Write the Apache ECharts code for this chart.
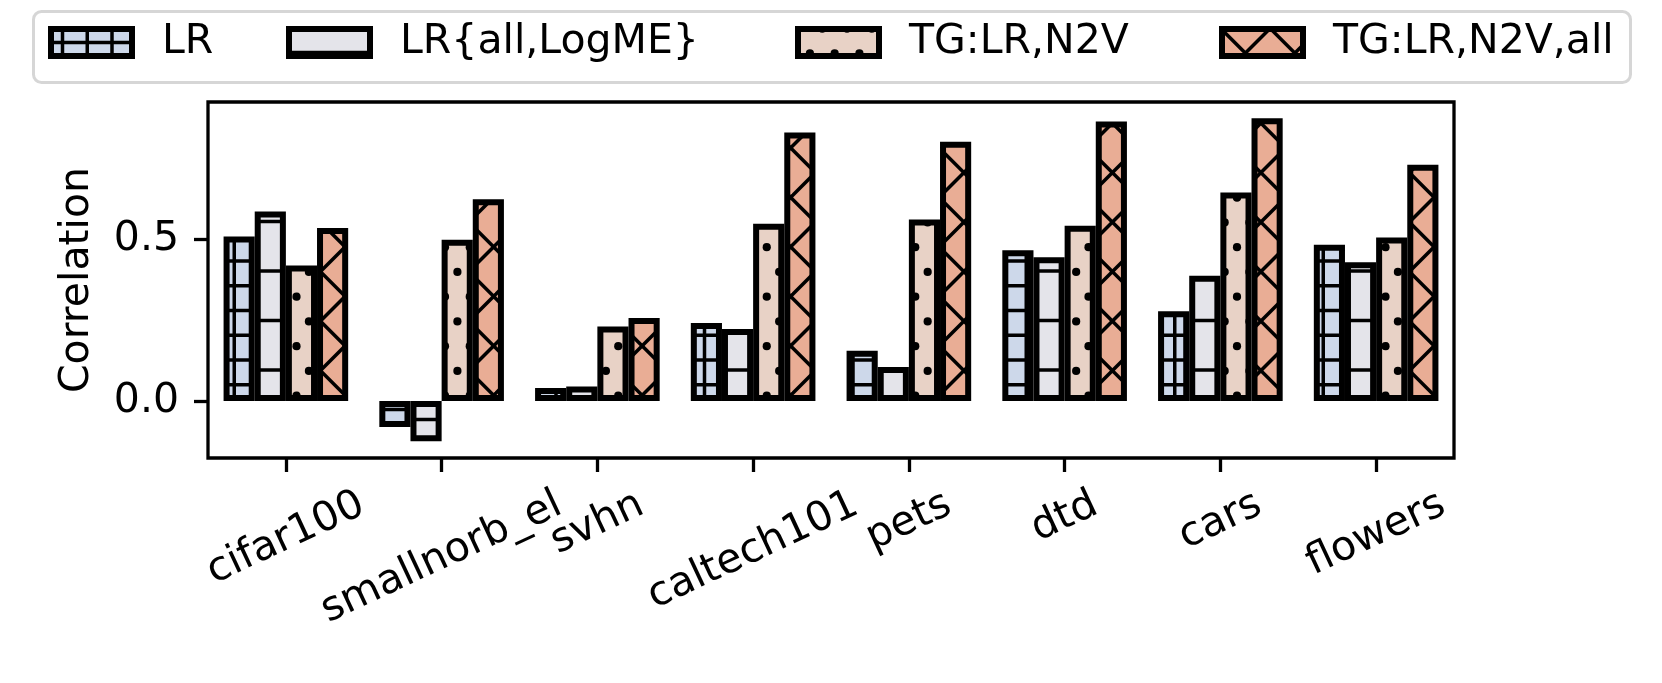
<!DOCTYPE html>
<html>
<head>
<meta charset="utf-8">
<script src="https://cdn.jsdelivr.net/npm/echarts@6/dist/echarts.min.js"></script>
<style>
  html, body { margin: 0; padding: 0; background: #fff; }
  #chart { width: 1662px; height: 683px; }
</style>
</head>
<body>
<div id="chart"></div>
<script>
const categories = ["cifar100", "smallnorb_el", "svhn", "caltech101", "pets", "dtd", "cars", "flowers"];
const seriesNames = ["LR", "LR{all,LogME}", "TG:LR,N2V", "TG:LR,N2V,all"];
const lrValues = [0.508, -0.080, 0.040, 0.241, 0.155, 0.465, 0.277, 0.482];
const lrAllValues = [0.585, -0.124, 0.045, 0.222, 0.105, 0.444, 0.387, 0.428];
const tgValues = [0.418, 0.498, 0.230, 0.547, 0.560, 0.541, 0.644, 0.505];
const tgAllValues = [0.534, 0.623, 0.256, 0.829, 0.800, 0.863, 0.873, 0.729];
const yTicks = [0, 0.5];
const yMin = -0.176;
const yMax = 0.923;

const fontFamily = '"DejaVu Sans", sans-serif';
const legendFont = 41;
const axisFont = 41;
const fills = ["#cdd8ea", "#e4e4ea", "#e8d2c6", "#e9ad95"];

// hatch tiles, 99px square (4 x 24.75 px), anchored to the canvas origin
function makePattern(bg, draw) {
  const c = document.createElement("canvas");
  c.width = 99;
  c.height = 99;
  const g = c.getContext("2d");
  g.fillStyle = bg;
  g.fillRect(0, 0, 99, 99);
  g.strokeStyle = "#000";
  g.fillStyle = "#000";
  g.lineWidth = 3.5;
  draw(g);
  return { image: c, repeat: "repeat" };
}

function hLine(g, y) { g.beginPath(); g.moveTo(-5, y); g.lineTo(104, y); g.stroke(); }
function vLine(g, x) { g.beginPath(); g.moveTo(x, -5); g.lineTo(x, 104); g.stroke(); }

const patterns = [
  // "+"
  makePattern(fills[0], g => {
    for (let k = -1; k <= 4; k++) {
      vLine(g, 11.5 + 24.75 * k);
      hLine(g, 13.6 + 24.75 * k);
    }
  }),
  // "-"
  makePattern(fills[1], g => {
    for (let k = -1; k <= 2; k++) hLine(g, 23.5 + 49.5 * k);
  }),
  // "."
  makePattern(fills[2], g => {
    for (let k = -1; k <= 4; k++) {
      for (let m = -1; m <= 2; m++) {
        g.beginPath();
        g.arc(-0.5 + 24.75 * k, -0.3 + 49.5 * m, 4.1, 0, Math.PI * 2);
        g.fill();
        g.beginPath();
        g.arc(11.9 + 24.75 * k, 24.45 + 49.5 * m, 4.1, 0, Math.PI * 2);
        g.fill();
      }
    }
  }),
  // "x"
  makePattern(fills[3], g => {
    for (let k = -4; k <= 5; k++) {
      const c1 = -2 + 49.5 * k;
      g.beginPath(); g.moveTo(c1 + 10, -10); g.lineTo(c1 - 110, 110); g.stroke();
      const c2 = -0.7 + 49.5 * k;
      g.beginPath(); g.moveTo(c2 - 10, -10); g.lineTo(c2 + 110, 110); g.stroke();
    }
  })
];

const valuesList = [lrValues, lrAllValues, tgValues, tgAllValues];
// one legend per entry so each sits where the reference has it
const legendLeft = [48, 286, 795, 1219];

const frame = {
  id: "legendFrame",
  type: "rect",
  left: 32,
  top: 10,
  shape: { width: 1597, height: 71, r: 8 },
  style: { fill: "#fff", stroke: "#d6d6d6", lineWidth: 3 },
  z: -1
};

const chart = echarts.init(document.getElementById("chart"));
const option = {
  animation: false,
  backgroundColor: "#fff",
  grid: {
    left: 208,
    right: 208,
    top: 102,
    bottom: 225,
    show: true,
    borderColor: "#000",
    borderWidth: 3.3,
    outerBoundsMode: "none"
  },
  graphic: [frame],
  legend: seriesNames.map((n, i) => ({
    left: legendLeft[i],
    top: 22,
    padding: 0,
    itemWidth: 81,
    itemHeight: 27,
    itemStyle: { borderColor: "#000", borderWidth: 6 },
    textStyle: { fontSize: legendFont, color: "#000", fontFamily: fontFamily, padding: [0, 0, 0, 25] },
    data: [{ name: n, icon: "rect" }]
  })),
  xAxis: {
    type: "category",
    data: categories,
    axisLine: { show: false, onZero: false },
    axisTick: {
      show: true,
      alignWithLabel: true,
      length: 14,
      lineStyle: { color: "#000", width: 3.3 }
    },
    axisLabel: { show: false },
    splitLine: { show: false }
  },
  yAxis: {
    type: "value",
    min: yMin,
    max: yMax,
    name: "Correlation",
    nameLocation: "middle",
    nameGap: 110,
    nameTextStyle: { fontSize: axisFont, color: "#000", fontFamily: fontFamily },
    axisLine: { show: false },
    axisTick: {
      show: true,
      length: 14,
      customValues: yTicks,
      lineStyle: { color: "#000", width: 3.3 }
    },
    axisLabel: {
      customValues: yTicks,
      formatter: v => v.toFixed(1),
      margin: 29,
      fontSize: axisFont,
      color: "#000",
      fontFamily: fontFamily
    },
    splitLine: { show: false }
  },
  series: seriesNames.map((name, i) => ({
    name: name,
    type: "bar",
    data: valuesList[i],
    barWidth: "20%",
    barGap: "0%",
    silent: true,
    itemStyle: { color: patterns[i], borderColor: "#000", borderWidth: 6 }
  }))
};
chart.setOption(option);

// category labels: rotated 25deg and centred under each tick (matplotlib ha="center")
const rot = 25 * Math.PI / 180;
const measure = document.createElement("canvas").getContext("2d");
measure.font = axisFont + 'px "DejaVu Sans"';
const axisBottom = chart.convertToPixel({ yAxisIndex: 0 }, yMin);
const labels = categories.map((name, i) => {
  const w = measure.measureText(name).width;
  const H = w * Math.sin(rot) + axisFont * 0.85 * Math.cos(rot);
  return {
    id: "xlabel" + i,
    type: "text",
    x: chart.convertToPixel({ xAxisIndex: 0 }, name),
    y: axisBottom + 29 + H / 2,
    rotation: rot,
    silent: true,
    style: {
      text: name,
      fontSize: axisFont,
      fontFamily: fontFamily,
      fill: "#000",
      align: "center",
      verticalAlign: "middle"
    }
  };
});
chart.setOption({ graphic: [frame].concat(labels) });
</script>
</body>
</html>
